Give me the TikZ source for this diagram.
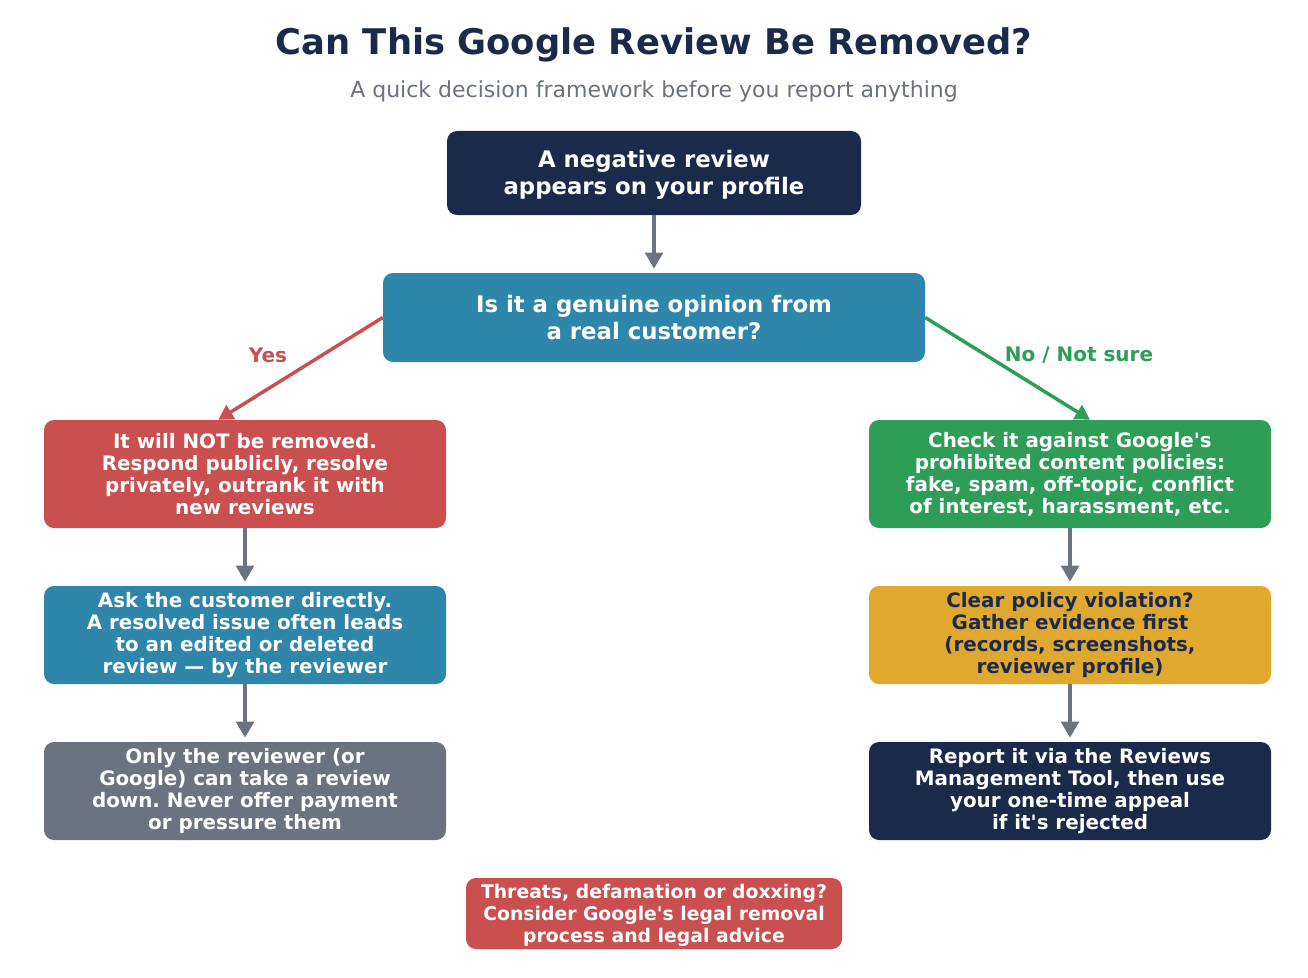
\documentclass[tikz,border=0pt]{standalone}
\usepackage{fontspec}
\setmainfont{DejaVu Sans}[Ligatures=TeXOff]
\usetikzlibrary{arrows.meta}
\definecolor{navy}{HTML}{1B2A4A}
\definecolor{teal}{HTML}{2E86AB}
\definecolor{redc}{HTML}{C9504F}
\definecolor{greenc}{HTML}{2E9E57}
\definecolor{yellowc}{HTML}{E0A82E}
\definecolor{grayc}{HTML}{6B7280}
\frenchspacing
\tikzset{
  box/.style={rounded corners=7.5pt, inner sep=0pt, align=center, text=white,
    font=\bfseries\fontsize{14.9}{16.5}\selectfont},
  bigbox/.style={box, font=\bfseries\fontsize{17.1}{20}\selectfont},
  sidebox/.style={box, minimum width=301.5pt},
  flow/.style={draw=grayc, line width=3pt, -{Triangle[length=12pt,width=13pt]}, shorten >=3pt},
  yesarrow/.style={draw=redc, line width=2.6pt, -{Triangle[length=11pt,width=12pt]}},
  noarrow/.style={draw=greenc, line width=2.6pt, -{Triangle[length=11pt,width=12pt]}},
  lab/.style={font=\bfseries\fontsize{15}{17}\selectfont, inner sep=0pt}
}
\begin{document}
\begin{tikzpicture}[x=0.75pt,y=-0.75pt]
\useasboundingbox[fill=white] (0,0) rectangle (1308,977);
\node[font=\bfseries\fontsize{26.5}{30}\selectfont, text=navy, inner sep=0pt] (title) at (654,45) {Can This Google Review Be Removed?};
\node[font=\fontsize{16.5}{19}\selectfont, text=grayc, inner sep=0pt] (sub) at (654,91) {A quick decision framework before you report anything};

\node[bigbox, fill=navy, minimum width=310.5pt, minimum height=63pt] (b1) at (654,173) {};
\node[bigbox, text=white] (b1t) at (654,175) {A negative review\\appears on your profile};
\node[bigbox, fill=teal, minimum width=406.5pt, minimum height=66.75pt] (b2) at (654,317.5) {Is it a genuine opinion from\\a real customer?};

\node[sidebox, fill=redc, minimum height=81pt] (l1) at (245,474) {It will NOT be removed.\\Respond publicly, resolve\\privately, outrank it with\\new reviews};
\node[sidebox, fill=teal, minimum height=73.5pt] (l2) at (245,635) {Ask the customer directly.\\A resolved issue often leads\\to an edited or deleted\\review — by the reviewer};
\node[sidebox, fill=grayc, minimum height=73.5pt] (l3) at (245,791) {Only the reviewer (or\\Google) can take a review\\down. Never offer payment\\or pressure them};

\node[sidebox, fill=greenc, minimum height=81pt] (r1) at (1070,474) {Check it against Google's\\prohibited content policies:\\fake, spam, off-topic, conflict\\of interest, harassment, etc.};
\node[sidebox, fill=yellowc, text=navy, minimum height=73.5pt] (r2) at (1070,635) {Clear policy violation?\\Gather evidence first\\(records, screenshots,\\reviewer profile)};
\node[sidebox, fill=navy, minimum height=73.5pt] (r3) at (1070,791) {Report it via the Reviews\\Management Tool, then use\\your one-time appeal\\if it's rejected};

\node[box, fill=redc, minimum width=282pt, minimum height=53.25pt] (bot) at (654,913.5) {};
\node[box, font=\bfseries\fontsize{14.1}{16.5}\selectfont] (bott) at (654,915.5) {Threats, defamation or doxxing?\\Consider Google's legal removal\\process and legal advice};

\draw[flow] (b1.south) -- (b2.north);
\draw[yesarrow] (b2.west) -- ([xshift=-20pt]l1.north);
\draw[noarrow] (b2.east) -- ([xshift=15pt]r1.north);
\node[lab, text=redc] (yes) at (268,355) {Yes};
\node[lab, text=greenc] (no) at (1079,355) {No / Not sure};

\draw[flow] (l1.south) -- (l2.north);
\draw[flow] (l2.south) -- (l3.north);
\draw[flow] (r1.south) -- (r2.north);
\draw[flow] (r2.south) -- (r3.north);
\end{tikzpicture}
\end{document}
